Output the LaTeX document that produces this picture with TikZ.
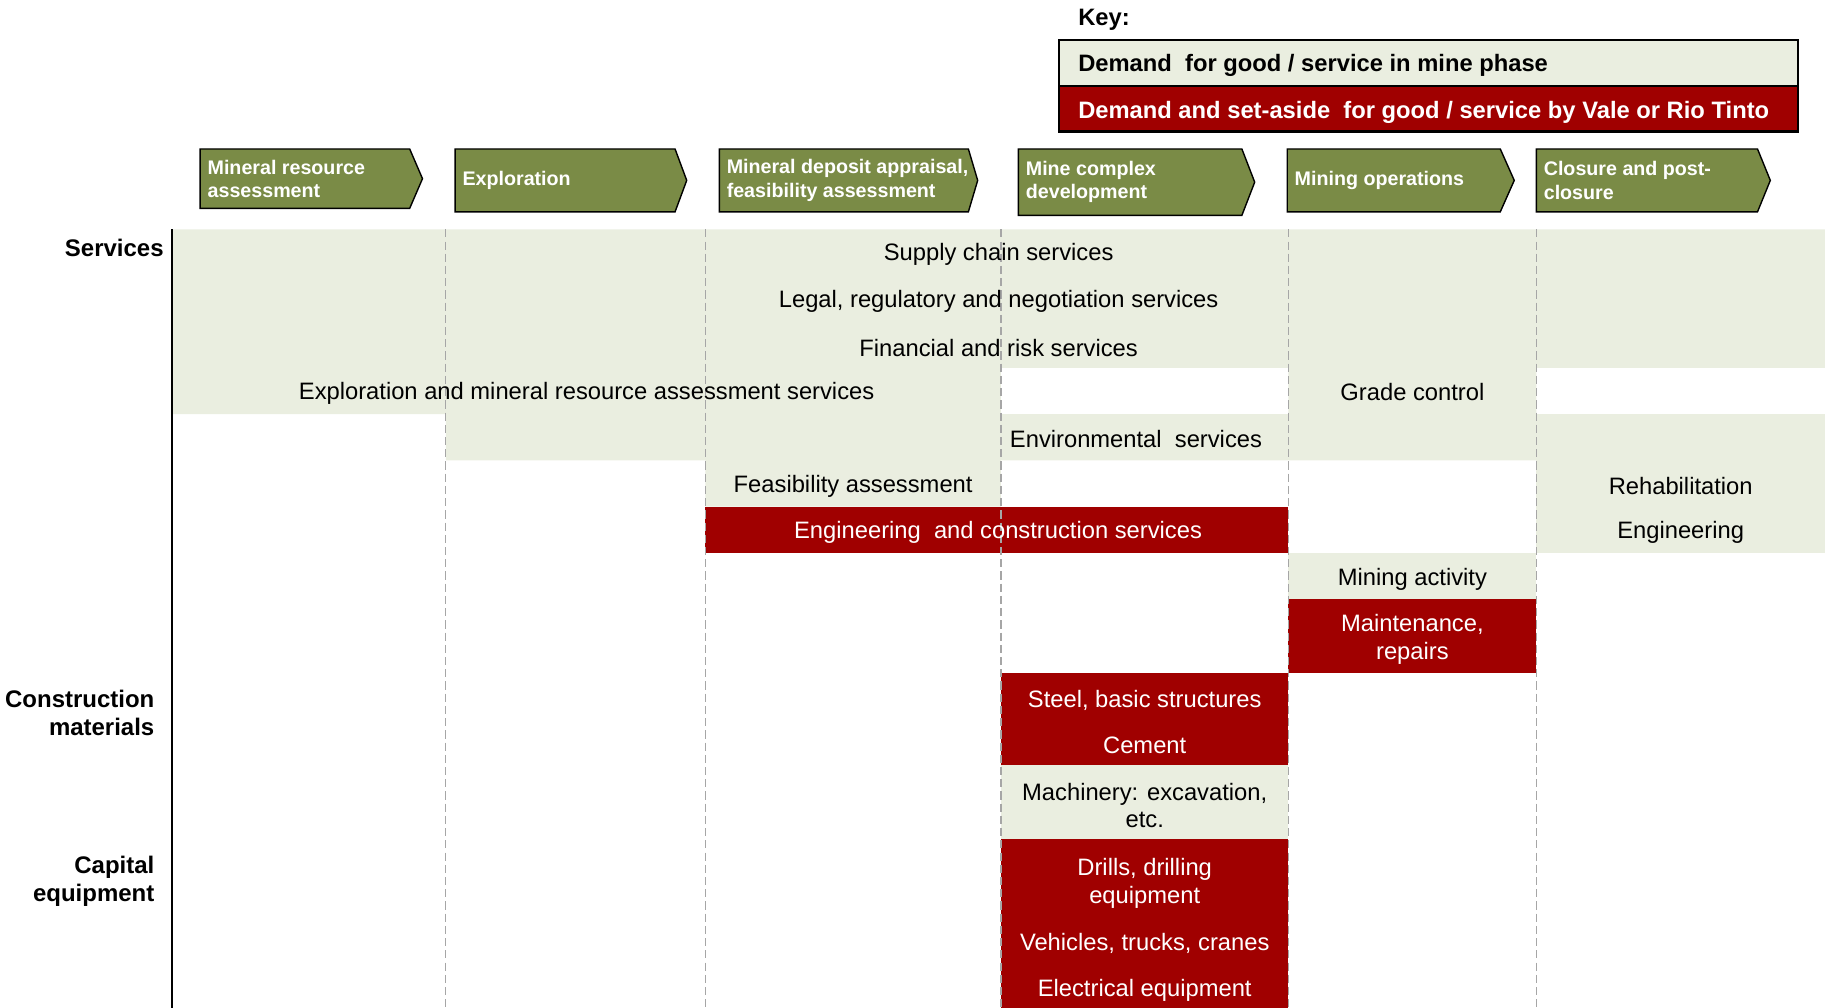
\documentclass[tikz,border=0pt]{standalone}
\usepackage{fontspec}
\setmainfont{Liberation Sans}
\definecolor{phasegreen}{RGB}{122,139,70}
\definecolor{demandfill}{RGB}{234,238,224}
\definecolor{setaside}{RGB}{160,0,0}
\begin{document}
\begin{tikzpicture}[x=0.5pt,y=-0.5pt,
  cell/.style={font=\fontsize{10.2}{12}\selectfont, align=center, inner sep=0pt, yshift=-0.8pt},
  redcell/.style={cell, text=white},
  keytext/.style={font=\bfseries\fontsize{10.2}{12}\selectfont, anchor=west, inner sep=0pt, yshift=-1.2pt},
  rowlabel/.style={font=\bfseries\fontsize{10.3}{12}\selectfont, align=right, anchor=east, inner sep=0pt},
  phasetext/.style={font=\bfseries\fontsize{8.45}{10}\selectfont, text=white, align=left, anchor=west, inner sep=0pt},
  colline/.style={gray!70, line width=0.6pt, dash pattern=on 3.5pt off 1.75pt}]

  \useasboundingbox (0,0) rectangle (1568,866);

  \pgfmathsetmacro{\xaxis}{148}
  \pgfmathsetmacro{\xlimit}{1568}
  \pgfmathsetmacro{\ytop}{197}
  \pgfmathsetmacro{\ylimit}{866}

  % Key
  \node[keytext] (keytitle) at (926,15) {Key:};
  \filldraw[fill=demandfill, line width=0.9pt] (910,34) rectangle (1545,74);
  \filldraw[fill=setaside, line width=0.9pt] (910,74) rectangle (1545,113);
  \node[keytext] (keydemand) at (926,54) {Demand\ \ for good / service in mine phase};
  \node[keytext, text=white] (keysetaside) at (926,94) {Demand and set-aside\ \ for good / service by Vale or Rio Tinto};

  % Phase arrows
  \foreach \xl/\xb/\xt/\yb/\name [count=\i] in {
      172/352/363/179/{Mineral resource\\assessment},
      391/580/590/182/{Exploration},
      618/832/840/182/{Mineral deposit appraisal,\\feasibility assessment},
      875/1067/1078/185/{Mine complex\\development},
      1106/1289/1301/182/{Mining operations},
      1320/1510/1521/182/{Closure and post-\\closure}}
  {
    \filldraw[fill=phasegreen, line width=0.6pt]
      (\xl,128) -- (\xb,128) -- (\xt,{(128+\yb)/2}) -- (\xb,\yb) -- (\xl,\yb) -- cycle;
    \node[phasetext] (phase\i) at (\xl+6,{(128+\yb)/2}) {\name};
  }

  % Demand in mine phase
  \fill[demandfill, even odd rule]
    (\xaxis,\ytop) -- (\xlimit,\ytop) -- (\xlimit,316.1) -- (1320,316.1)
    -- (1320,395.5) -- (860,395.5) -- (860,435.2) -- (606,435.2)
    -- (606,395.5) -- (383,395.5) -- (383,355.8) -- (\xaxis,355.8) -- cycle
    (860,316.1) rectangle (1107,355.8); % hole under Financial
  \fill[demandfill] (1320,355.8) rectangle (\xlimit,474.9);
  \fill[demandfill] (1107,474.9) rectangle (1320,514.6);
  \fill[demandfill] (860,657) rectangle (1107,721);

  % Demand and set-aside
  \fill[setaside] (606,435.2) rectangle (1107,474.9);
  \fill[setaside] (1107,514.6) rectangle (1320,578);
  \fill[setaside] (860,578) rectangle (1107,657);
  \fill[setaside] (860,721) rectangle (1107,\ylimit);

  % Phase boundaries
  \foreach \x in {383,606,860,1107,1320}
    \draw[colline] (\x,\ytop) -- (\x,\ylimit);
  \draw[line width=1pt] (\xaxis,\ytop) -- (\xaxis,\ylimit); % Axis

  % Row labels
  \node[rowlabel] (services) at (141,213) {Services};
  \node[rowlabel] (construction) at (133,612.5) {Construction\\materials};
  \node[rowlabel] (capital) at (133,757) {Capital\\equipment};

  % Goods and services
  \node[cell] (supply) at (858,217) {Supply chain services};
  \node[cell] (legal) at (858,257) {Legal, regulatory and negotiation services};
  \node[cell] (financial) at (858,297) {Financial and risk services};
  \node[cell] (exploration) at (504,336) {Exploration and mineral resource assessment services};
  \node[cell] (grade) at (1213.5,335) {Grade control};
  \node[cell] (environmental) at (976,376) {Environmental\ \ services};
  \node[cell] (feasibility) at (733,416) {Feasibility assessment};
  \node[cell] (rehabilitation) at (1444,416) {Rehabilitation};
  \node[redcell] (engconstruction) at (857.5,456) {Engineering\ \ and construction services};
  \node[cell] (engineering) at (1444,456) {Engineering};
  \node[cell] (miningactivity) at (1213.5,496) {Mining activity};
  \node[redcell] (maintenance) at (1213.5,548) {Maintenance,\\repairs};
  \node[redcell] (steel) at (983.5,600) {Steel, basic structures};
  \node[redcell] (cement) at (983.5,639) {Cement};
  \node[cell] (machinery) at (983.5,690.5) {Machinery: excavation,\\etc.};
  \node[redcell] (drills) at (983.5,757) {Drills, drilling\\equipment};
  \node[redcell] (vehicles) at (983.5,809) {Vehicles, trucks, cranes};
  \node[redcell] (electrical) at (983.5,849) {Electrical equipment};

\end{tikzpicture}
\end{document}
